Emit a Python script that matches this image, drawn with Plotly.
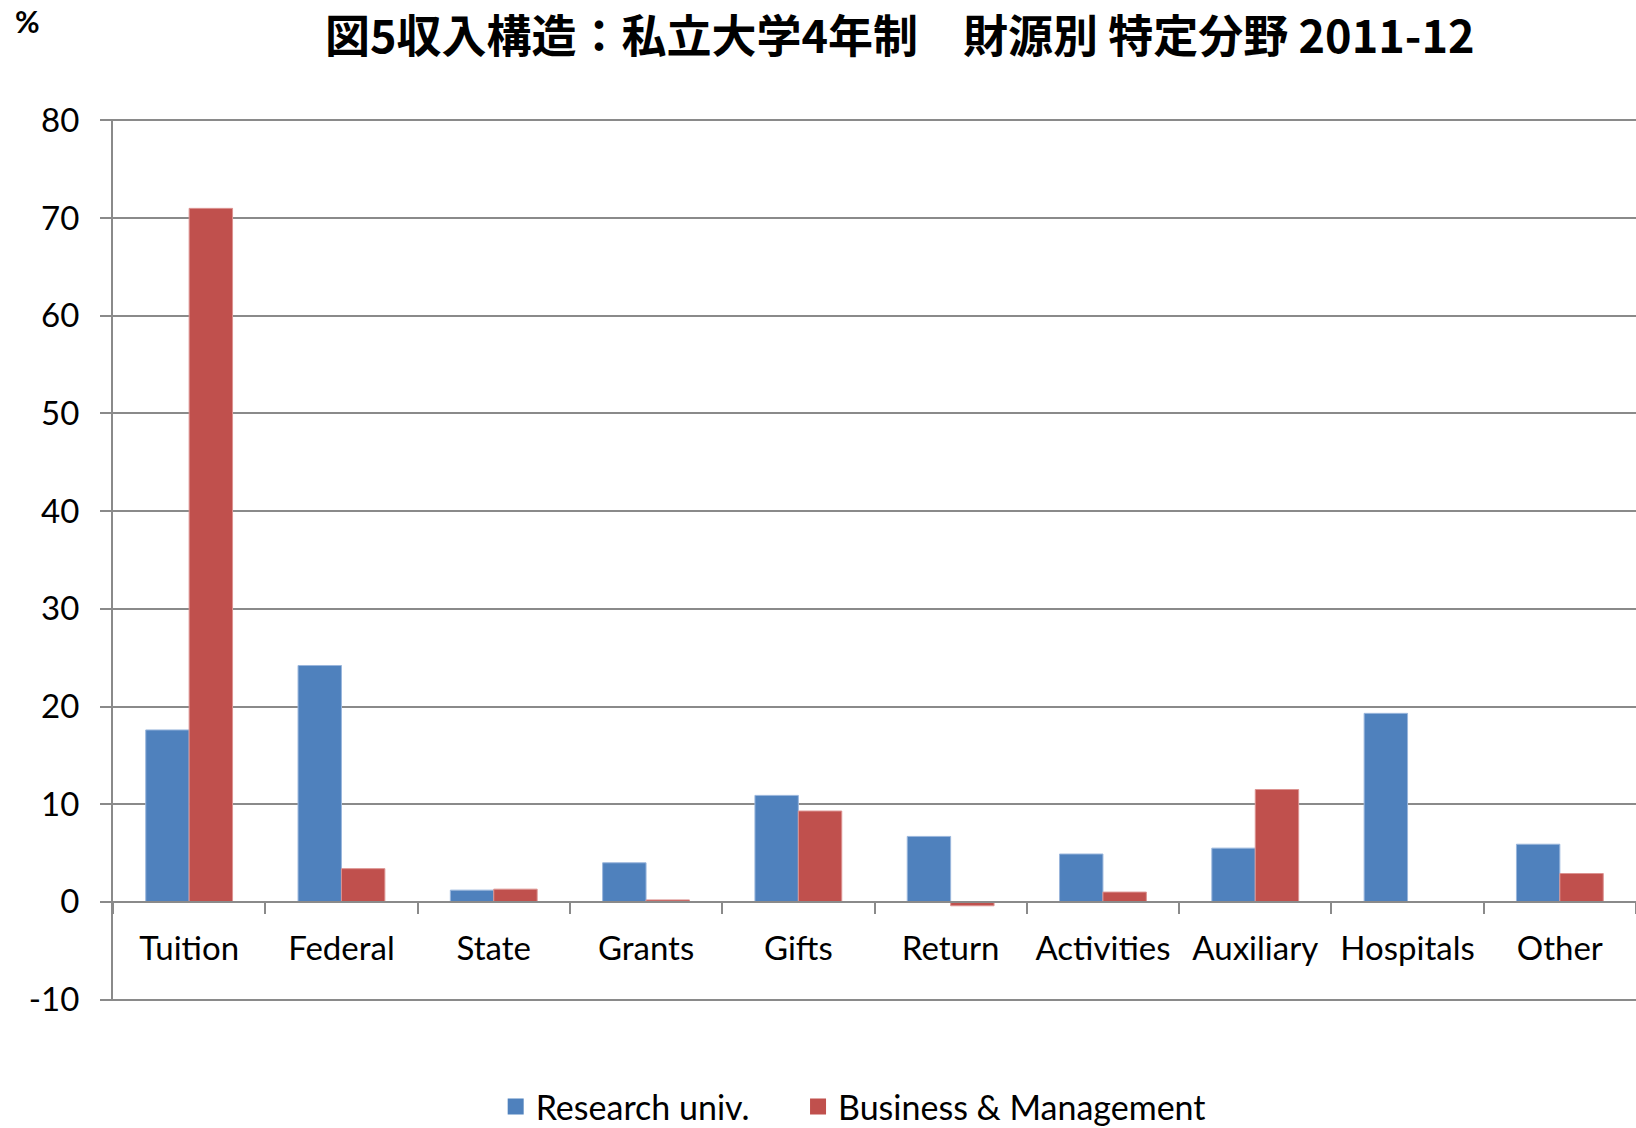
import plotly.graph_objects as go

# data (%)
categories = ["Tuition", "Federal", "State", "Grants", "Gifts",
              "Return", "Activities", "Auxiliary", "Hospitals", "Other"]
research_univ = [17.6, 24.2, 1.2, 4.0, 10.9, 6.7, 4.9, 5.5, 19.3, 5.9]
business_mgmt = [71.0, 3.4, 1.3, 0.2, 9.3, -0.4, 1.0, 11.5, 0.0, 2.9]
y_ticks = [-10, 0, 10, 20, 30, 40, 50, 60, 70, 80]
y_tick_labels = ["-10", "0", "10", "20", "30", "40", "50", "60", "70", "80"]

TITLE = "図5収入構造：私立大学4年制　財源別 特定分野 2011-12"
FONT = "Lato, 'Noto Sans', sans-serif"
GRID = "#8a8a8a"
BLUE, RED = "#4F81BD", "#C0504D"
PAD = 0.15  # keeps the -10 and 80 gridlines from being clipped

fig = go.Figure()
fig.add_trace(go.Bar(
    x=categories, y=research_univ, name="Research univ.", showlegend=False,
    marker=dict(color=BLUE, line=dict(color="#9ab6dc", width=1)),
))
fig.add_trace(go.Bar(
    x=categories, y=business_mgmt, name="Business & Management", showlegend=False,
    marker=dict(color=RED, line=dict(color="#dc9391", width=1)),
))
# square legend keys; trailing nbsp widens the gap between the two entries
for name, color in [("Research univ.\u00a0\u00a0\u00a0\u00a0\u00a0", BLUE),
                    ("Business & Management", RED)]:
    fig.add_trace(go.Scatter(
        x=[None], y=[None], mode="markers", name=name,
        marker=dict(symbol="square", size=20, color=color),
    ))

fig.update_layout(
    width=1636, height=1128,
    margin=dict(l=113, r=0, t=119, b=127, autoexpand=False),
    paper_bgcolor="white", plot_bgcolor="white",
    barmode="group", bargap=0.43, bargroupgap=0,
    font=dict(family=FONT, size=33, color="black"),
    legend=dict(
        orientation="h", x=0.486, xanchor="center", y=-0.12, yanchor="middle",
        font=dict(size=34), itemwidth=30, tracegroupgap=0,
    ),
)

# category axis sits on the zero line, Excel style
lo, hi = y_ticks[0] - PAD, y_ticks[-1] + PAD
fig.update_xaxes(
    anchor="free", position=(0 - lo) / (hi - lo), automargin=False,
    showline=True, linecolor=GRID, linewidth=2,
    ticks="outside", tickson="boundaries", ticklen=11, tickcolor=GRID, tickwidth=1.5,
    showgrid=False, ticklabelstandoff=18,
)
fig.update_yaxes(
    range=[lo, hi], tickvals=y_ticks, ticktext=y_tick_labels, automargin=False,
    showline=True, linecolor=GRID, linewidth=2,
    ticks="outside", ticklen=11, tickcolor=GRID, tickwidth=1.5,
    showgrid=True, gridcolor=GRID, gridwidth=1.5, zeroline=False,
    ticklabelstandoff=14,
)

fig.add_annotation(
    text=f"<b>{TITLE}</b>", xref="paper", yref="paper",
    x=(899 - 113) / 1523, xanchor="center",
    y=(1001 + 0) / 881, yanchor="top", showarrow=False,
    font=dict(family="'Noto Sans CJK JP', sans-serif", size=45, color="black"),
)
fig.add_annotation(
    text="<b>%</b>", xref="paper", yref="paper",
    x=-(113 - 27) / 1523, xanchor="center",
    y=(1001 - 22) / 881, yanchor="middle", showarrow=False,
    font=dict(family=FONT, size=30, color="black"),
)

# drop the browser's default 8px body margin so the figure sits at the page corner
fig.write_html("out.html", config={"displayModeBar": False},
               post_script="document.body.style.margin='0';")
